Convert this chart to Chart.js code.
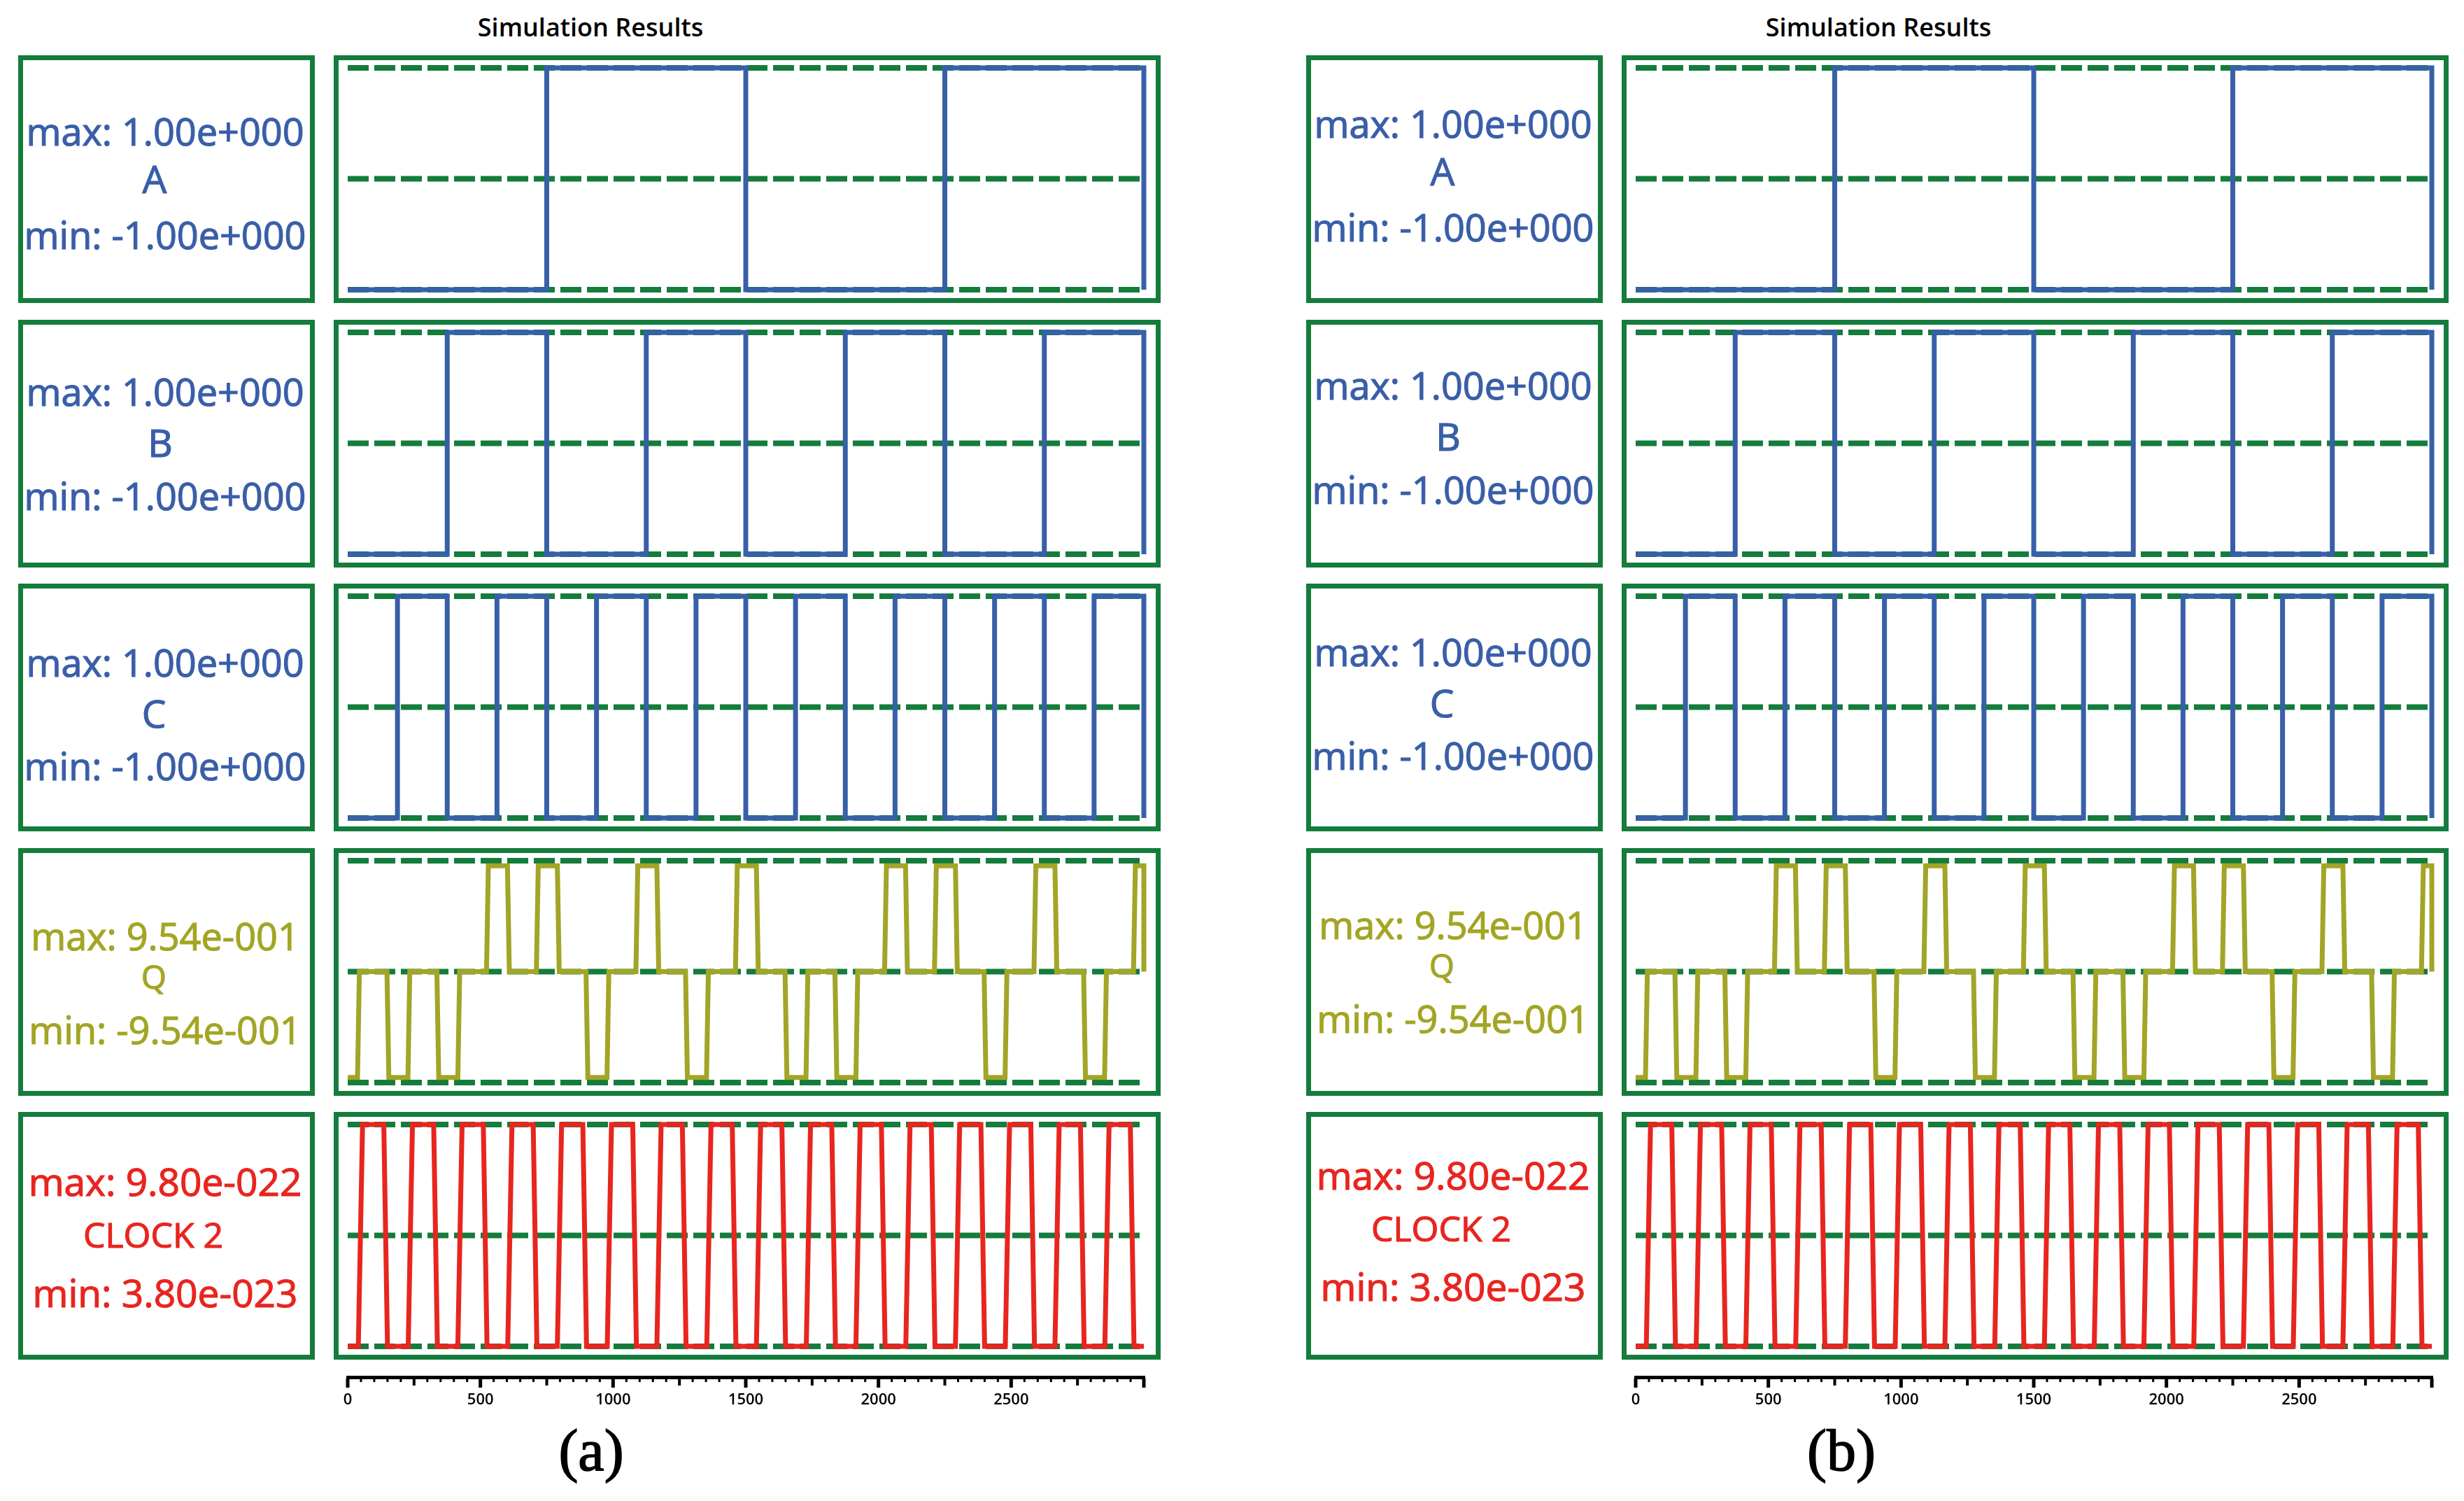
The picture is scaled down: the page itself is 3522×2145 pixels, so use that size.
<!DOCTYPE html>
<html>
<head>
<meta charset="utf-8">
<title>Simulation Results</title>
<script src="https://cdn.jsdelivr.net/npm/chart.js"></script>
<style>
  html, body { margin: 0; padding: 0; background: #fff; }
  #page { position: relative; width: 3522px; height: 2145px; overflow: hidden; font-family: "Open Sans", "Noto Sans", sans-serif; }
  .box { position: absolute; box-sizing: border-box; border: 7px solid #147c3c; background: #fff; }
  .txt { position: absolute; white-space: nowrap; line-height: 1; transform: translate(-50%, -50%); }
  .lbl { -webkit-text-stroke: 1.2px currentColor; }
  .cap { font-family: "Liberation Serif", serif; -webkit-text-stroke: 1.5px #000; }
  canvas { position: absolute; }
</style>
</head>
<body>
<div id="page"></div>
<script>
// ---- data ----
const timeMin = 0;
const timeMax = 3000;
const timeLabels = [0, 500, 1000, 1500, 2000, 2500];

const signalNames = ['A', 'B', 'C', 'Q', 'CLOCK 2'];
const maxLabels = ['max: 1.00e+000', 'max: 1.00e+000', 'max: 1.00e+000', 'max: 9.54e-001', 'max: 9.80e-022'];
const minLabels = ['min: -1.00e+000', 'min: -1.00e+000', 'min: -1.00e+000', 'min: -9.54e-001', 'min: 3.80e-023'];
const maxValues = [1, 1, 1, 0.954, 9.80e-22];
const minValues = [-1, -1, -1, -0.954, 3.80e-23];

// A, B, C are plain square waves: times where they toggle, starting low
const aEdges = [750, 1500, 2250, 3000];
const bEdges = [375, 750, 1125, 1500, 1875, 2250, 2625, 3000];
const cEdges = [187.5, 375, 562.5, 750, 937.5, 1125, 1312.5, 1500, 1687.5, 1875, 2062.5, 2250, 2437.5, 2625, 2812.5, 3000];

// Q: sits at 0 while the clock is high, goes to +/- level while it is low
const qStartLow = 37;   // first rise from -level to 0
const qStartZero = 44;
const qLeave = [148, 336, 523, 711, 898, 1086, 1273, 1461, 1648, 1836, 2023, 2211, 2398, 2586, 2773, 2961];
const qHit   = [155, 343, 530, 718, 905, 1093, 1280, 1468, 1655, 1843, 2030, 2218, 2405, 2593, 2780, 2968];
const qDrop  = [227, 415, 602, 790, 977, 1165, 1352, 1540, 1727, 1915, 2102, 2290, 2477, 2665, 2852, 3000];
const qZero  = [234, 422, 609, 797, 984, 1172, 1359, 1547, 1734, 1922, 2109, 2297, 2484, 2672, 2859, 3000];
const qSign  = [-1, -1, 1, 1, -1, 1, -1, 1, -1, -1, 1, 1, -1, 1, -1, 1];
const qLevel = 0.91;

// CLOCK 2 pulses (rise start, rise end, fall start, fall end)
const clkRise = [40, 228, 415, 603, 790, 978, 1165, 1353, 1540, 1728, 1915, 2103, 2290, 2478, 2665, 2853];
const clkHigh = [56, 244, 431, 619, 806, 994, 1181, 1369, 1556, 1744, 1931, 2119, 2306, 2494, 2681, 2869];
const clkFall = [136, 324, 511, 699, 886, 1074, 1261, 1449, 1636, 1824, 2011, 2199, 2386, 2574, 2761, 2949];
const clkLow  = [150, 338, 525, 713, 900, 1088, 1275, 1463, 1650, 1838, 2025, 2213, 2400, 2588, 2775, 2963];

// ---- look ----
const GREEN = '#147c3c';
const colors = ['#3760a9', '#3760a9', '#3760a9', '#a2a526', '#e8251f'];
const textColors = ['#3a5fa8', '#3a5fa8', '#3a5fa8', '#a3a524', '#e8251f'];

const panelShift = [0, 1841];
const rowTops = [79, 457, 834, 1212, 1589];
const maxOffsets = [110, 104, 114, 127, 100];
const nameOffsets = [177, 176, 186, 185, 177];
const minOffsets = [258, 253, 262, 261, 259];
const nameX = [195, 203, 194, 194, 193];
const nameSizes = [55, 55, 55, 46, 50];
const panelLift = [[0, 0, 0, 0, 0], [-11, -9, -15, -16, -9]];

function stepPoints(edges, lo, hi) {
  const pts = [{x: timeMin, y: lo}];
  let level = lo;
  edges.forEach(e => {
    pts.push({x: e, y: level});
    level = level === lo ? hi : lo;
    pts.push({x: e, y: level});
  });
  return pts;
}

function qPoints() {
  const pts = [{x: timeMin, y: -qLevel}, {x: qStartLow, y: -qLevel}, {x: qStartZero, y: 0}];
  qLeave.forEach((t, i) => {
    pts.push({x: t, y: 0});
    pts.push({x: qHit[i], y: qSign[i] * qLevel});
    pts.push({x: qDrop[i], y: qSign[i] * qLevel});
    pts.push({x: qZero[i], y: 0});
  });
  return pts;
}

function clockPoints() {
  const lo = minValues[4], hi = maxValues[4];
  const pts = [{x: timeMin, y: lo}];
  clkRise.forEach((t, i) => {
    pts.push({x: t, y: lo});
    pts.push({x: clkHigh[i], y: hi});
    pts.push({x: clkFall[i], y: hi});
    pts.push({x: clkLow[i], y: lo});
  });
  pts.push({x: timeMax, y: lo});
  return pts;
}

const seriesPoints = [
  stepPoints(aEdges, -1, 1),
  stepPoints(bEdges, -1, 1),
  stepPoints(cEdges, -1, 1),
  qPoints(),
  clockPoints()
];

// dashed green lines at min, middle and max of each trace
const guideLines = {
  id: 'guideLines',
  beforeDatasetsDraw(chart) {
    const {ctx, chartArea} = chart;
    const sy = chart.scales.y;
    const vals = [sy.min, (sy.min + sy.max) / 2, sy.max];
    ctx.save();
    ctx.strokeStyle = GREEN;
    ctx.lineWidth = 8;
    ctx.setLineDash([30, 8]);
    vals.forEach(v => {
      const y = sy.getPixelForValue(v);
      ctx.beginPath();
      ctx.moveTo(chartArea.left, y);
      ctx.lineTo(chartArea.right, y);
      ctx.stroke();
    });
    ctx.restore();
  }
};

// time ruler under each panel
const timeRuler = {
  id: 'timeRuler',
  afterDraw(chart) {
    const {ctx} = chart;
    const sx = chart.scales.x;
    const xa = sx.getPixelForValue(timeMin);
    const xb = sx.getPixelForValue(timeMax);
    ctx.save();
    ctx.fillStyle = '#000';
    ctx.fillRect(xa - 2, 16, xb - xa + 4, 5);
    for (let t = timeMin; t <= timeMax; t += 50) {
      const x = sx.getPixelForValue(t);
      if (t % 500 === 0) ctx.fillRect(x - 2.5, 20, 5, 13);
      else if (t % 250 === 0) ctx.fillRect(x - 2, 20, 4, 10);
      else ctx.fillRect(x - 1.5, 20, 3, 5);
    }
    ctx.font = '600 22px "Open Sans"';
    ctx.textAlign = 'center';
    ctx.textBaseline = 'alphabetic';
    timeLabels.forEach(t => ctx.fillText(String(t), sx.getPixelForValue(t), 57));
    ctx.restore();
  }
};

const page = document.getElementById('page');

function addBox(left, top, width, height) {
  const d = document.createElement('div');
  d.className = 'box';
  Object.assign(d.style, {left: left + 'px', top: top + 'px', width: width + 'px', height: height + 'px'});
  page.appendChild(d);
}

function addText(str, cx, cy, size, color, extra, cls) {
  const d = document.createElement('div');
  d.className = 'txt' + (cls ? ' ' + cls : '');
  d.textContent = str;
  Object.assign(d.style, {left: cx + 'px', top: cy + 'px', fontSize: size + 'px', color: color}, extra || {});
  page.appendChild(d);
}

function addCanvas(left, top, width, height) {
  const c = document.createElement('canvas');
  c.width = width;
  c.height = height;
  Object.assign(c.style, {left: left + 'px', top: top + 'px', width: width + 'px', height: height + 'px'});
  page.appendChild(c);
  return c;
}

function drawTrace(canvas, i) {
  new Chart(canvas, {
    type: 'line',
    data: {
      datasets: [{
        data: seriesPoints[i],
        borderColor: colors[i],
        borderWidth: 7,
        pointRadius: 0,
        tension: 0,
        fill: false,
        clip: false,
        borderJoinStyle: 'miter',
        borderCapStyle: 'butt'
      }]
    },
    options: {
      responsive: false,
      devicePixelRatio: 1,
      animation: false,
      layout: {padding: {left: 13, right: 17, top: 11, bottom: 12}},
      scales: {
        x: {type: 'linear', min: timeMin, max: timeMax, display: false},
        y: {type: 'linear', min: minValues[i], max: maxValues[i], display: false}
      },
      plugins: {legend: {display: false}, tooltip: {enabled: false}}
    },
    plugins: [guideLines]
  });
}

function drawRuler(canvas) {
  new Chart(canvas, {
    type: 'line',
    data: {datasets: [{data: []}]},
    options: {
      responsive: false,
      devicePixelRatio: 1,
      animation: false,
      layout: {padding: {left: 20, right: 24, top: 0, bottom: 0}},
      scales: {
        x: {type: 'linear', min: timeMin, max: timeMax, display: false},
        y: {display: false}
      },
      plugins: {legend: {display: false}, tooltip: {enabled: false}}
    },
    plugins: [timeRuler]
  });
}

panelShift.forEach((dx, p) => {
  addText('Simulation Results', 844 + dx, 39, 36, '#000', {fontWeight: 600});

  rowTops.forEach((top, i) => {
    const lift = panelLift[p][i];
    addBox(26 + dx, top, 424, 354);
    addBox(477 + dx, top, 1182, 354);

    addText(maxLabels[i], 26 + dx + 210, top + maxOffsets[i] + lift - 2, i === 4 ? 55 : 54, textColors[i], null, 'lbl');
    addText(signalNames[i], 26 + dx + nameX[i], top + nameOffsets[i] + lift - 2, nameSizes[i], textColors[i], null, 'lbl');
    addText(minLabels[i], 26 + dx + 210, top + minOffsets[i] + lift - 2, i === 4 ? 55 : 54, textColors[i], null, 'lbl');

    drawTrace(addCanvas(484 + dx, top + 7, 1168, 340), i);
  });

  drawRuler(addCanvas(477 + dx, 1950, 1182, 80));
});

addText('(a)', 845, 2073, 84, '#000', null, 'cap');
addText('(b)', 2632, 2073, 84, '#000', null, 'cap');
</script>
</body>
</html>
